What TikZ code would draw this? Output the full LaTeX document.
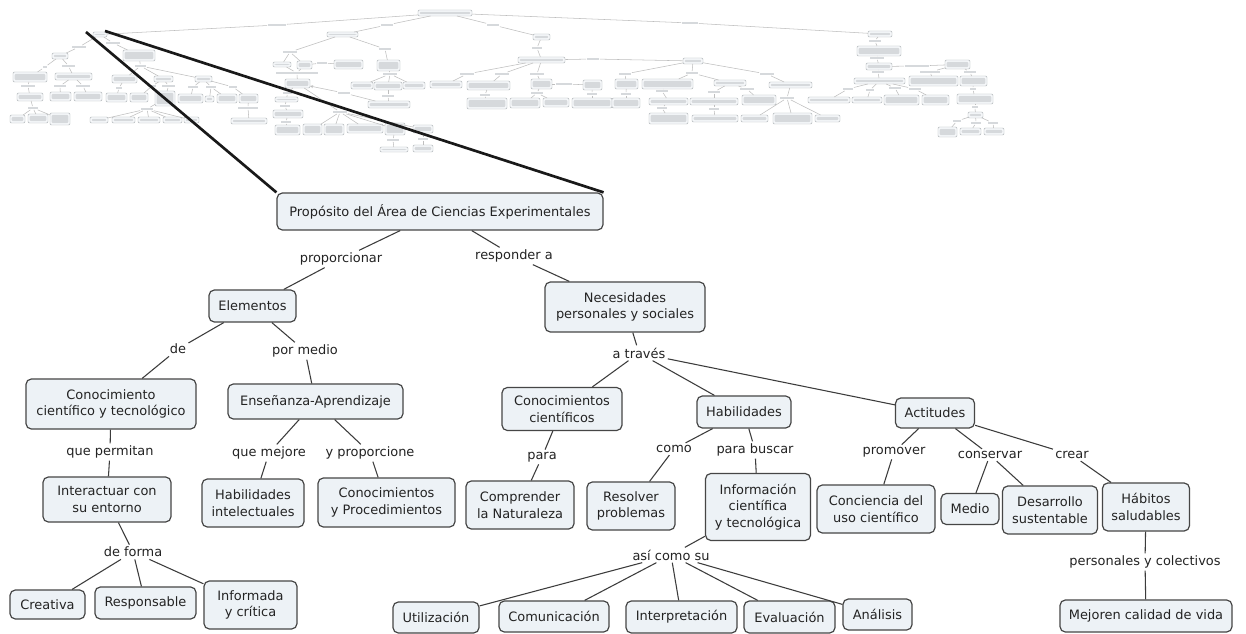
\documentclass[tikz,border=0pt]{standalone}
\usepackage{fontspec}
\setmainfont{DejaVu Sans}
\usetikzlibrary{fit,calc,arrows.meta}

\definecolor{mfill}{RGB}{237,242,246}
\definecolor{mborder}{RGB}{70,70,70}
\definecolor{mline}{RGB}{60,60,60}
\definecolor{mtext}{RGB}{35,35,35}
\definecolor{tfill}{RGB}{246,248,250}
\definecolor{tborder}{RGB}{172,176,180}
\definecolor{tline}{RGB}{190,190,190}
\definecolor{ttext}{RGB}{214,217,220}

\newcommand\mapfont{\fontsize{9.7}{12.3}\selectfont}

% main concept: name, cx, cy, width, height, text (all in px)
\newcommand\mnode[6]{\node[mbox, minimum width=#4*0.75pt, minimum height=#5*0.75pt] (#1) at (#2,#3) {#6};}
% linking phrase
\newcommand\lnode[4]{\node[mlabel] (#1) at (#2,#3) {#4};}
% concept -- phrase -- list of concepts
\newcommand\mlink[3]{\draw[mconn] (#1) -- (#2);\foreach \tgt in {#3}{\draw[mconn] (#2) -- (\tgt);}}
% overview map: box, phrase and link
\newcommand\tbx[5]{\node[tbox, fit={(#2,#3) (#4,#5)}] (#1) {};}
\newcommand\tlab[5]{\node[tphrase, fit={(#2,#3) (#4,#5)}] (#1) {};}
\newcommand\tlink[3]{\draw[tconn] (#1) -- (#2);\foreach \tgt in {#3}{\draw[tconn] (#2) -- (\tgt);}}

\begin{document}
\begin{tikzpicture}[x=0.75pt,y=-0.75pt,
  mbox/.style={draw=mborder, fill=mfill, rounded corners=4pt, line width=0.9pt,
    align=center, inner sep=0pt, text=mtext, font=\mapfont},
  mlabel/.style={inner sep=1.6pt, text=mtext, font=\mapfont},
  mconn/.style={draw=mline, line width=0.8pt},
  tbox/.style={draw=tborder, fill=tfill, rounded corners=0.9pt, line width=0.35pt,
    inner sep=0pt, outer sep=0pt,
    path picture={\fill[ttext] ([xshift=1.3pt,yshift=1.35pt]path picture bounding box.south west)
      rectangle ([xshift=-1.3pt,yshift=-1.35pt]path picture bounding box.north east);}},
  tphrase/.style={fill=ttext, inner sep=0pt, outer sep=0.7pt},
  tconn/.style={draw=tline, line width=0.4pt},
  zoomline/.style={draw=black!90, line width=2pt}]

\fill[white] (0,0) rectangle (1246,634);
\path[use as bounding box] (0,0) rectangle (1246,634);

% ---------- overview of the whole map ----------
\tbx{tR}{418}{10}{472}{16}
\tlab{ta1}{268}{24}{286}{26}
\tlab{ta2}{381}{24}{393}{26}
\tlab{ta3}{487}{24}{499}{26}
\tlab{ta4}{682}{22}{698}{24}
\tbx{tP}{93}{32}{107}{37}
\tbx{tB}{327}{32}{358}{37}
\tbx{tD}{533}{34}{550}{40}
\tbx{tG}{868}{31}{892}{37}

% purpose branch
\tlab{tlp1}{72}{46}{86}{48}
\tlab{tlp2}{106}{42}{120}{44}
\tbx{tElem}{52}{53}{68}{59}
\tbx{tNec}{123}{50}{155}{61}
\tlab{tlde}{43}{66}{47}{68}
\tlab{tlpm}{62}{65}{75}{67}
\tlab{tlat}{135}{65}{146}{67}
\tbx{tCCT}{13}{72}{47}{82}
\tbx{tENS}{55}{73}{92}{80}
\tbx{tCC}{112}{75}{137}{83}
\tbx{tHAB}{154}{76}{173}{82}
\tbx{tACT}{195}{76}{212}{82}
\tlab{tlqp}{21}{85}{35}{87}
\tlab{tlqm}{54}{85}{66}{87}
\tlab{tlyp}{76}{85}{90}{87}
\tlab{tlpara}{116}{87}{122}{89}
\tlab{tlcomo}{148}{85}{156}{87}
\tlab{tlpb}{162}{85}{175}{87}
\tlab{tlprom}{188}{86}{198}{88}
\tlab{tlcons}{206}{86}{216}{88}
\tlab{tlcrear}{229}{86}{237}{88}
\tbx{tINT}{17}{93}{43}{101}
\tbx{tHI}{50}{92}{71}{101}
\tbx{tCYP}{74}{92}{102}{101}
\tbx{tCOMP}{106}{93}{127}{102}
\tbx{tRES}{130}{93}{148}{102}
\tbx{tINFO}{155}{91}{175}{106}
\tbx{tCONC}{178}{94}{203}{103}
\tbx{tMED}{205}{96}{214}{102}
\tbx{tDES}{217}{94}{237}{103}
\tbx{tHS}{239}{94}{258}{103}
\tlab{tldf}{28}{107}{38}{109}
\tlab{tlacs}{141}{108}{153}{110}
\tlab{tlpyc}{238}{107}{258}{109}
\tbx{tCRE}{10}{115}{25}{123}
\tbx{tRSP}{28}{114}{48}{123}
\tbx{tINF}{50}{113}{70}{125}
\tbx{tUTI}{90}{117}{108}{123}
\tbx{tCOM}{112}{117}{135}{123}
\tbx{tITP}{138}{117}{160}{123}
\tbx{tEVA}{163}{117}{182}{123}
\tbx{tANA}{184}{117}{199}{123}
\tbx{tMEJ}{231}{118}{267}{124}

% second branch
\tlab{tlb1}{283}{51}{297}{53}
\tlab{tlb2}{379}{48}{391}{50}
\tbx{tb1}{273}{62}{291}{67}
\tbx{tb2}{297}{61}{312}{69}
\tbx{tb3}{377}{60}{400}{71}
\tlab{tlb3}{317}{62}{327}{64}
\tbx{tb4}{334}{60}{363}{69}
\tlab{tlb4}{276}{72}{318}{74}
\tbx{tb5}{285}{79}{310}{88}
\tlab{tlb5}{383}{73}{397}{75}
\tbx{tb6}{351}{82}{373}{89}
\tbx{tb7}{374}{82}{402}{90}
\tbx{tb8}{403}{82}{425}{89}
\tlab{tlb6}{382}{95}{394}{97}
\tbx{tb9}{368}{101}{410}{108}
\tlab{tlb7}{338}{92}{350}{94}
\tlab{tlb9}{283}{92}{292}{94}
\tbx{tb10}{275}{97}{298}{102}
\tlab{tlb10}{280}{105}{290}{107}
\tbx{tb11}{273}{110}{303}{118}
\tlab{tlb11}{281}{121}{291}{123}
\tbx{tb12}{275}{125}{300}{135}
\tlab{tlb12}{333}{111}{347}{113}
\tbx{tb13}{303}{124}{322}{135}
\tbx{tb14}{324}{124}{344}{135}
\tbx{tb15}{347}{124}{383}{133}
\tbx{tb16}{385}{123}{405}{135}
\tbx{tb18}{413}{125}{433}{133}
\tlab{tlb13}{387}{139}{399}{141}
\tbx{tb17}{380}{147}{408}{152}
\tlab{tlb14}{418}{138}{428}{140}
\tbx{tb19}{413}{145}{433}{152}

% third branch
\tlab{tld1}{532}{47}{542}{49}
\tbx{tE}{518}{57}{565}{63}
\tlab{tld2}{587}{58}{599}{60}
\tbx{tF}{683}{58}{703}{64}
\tlab{tld3}{460}{73}{474}{75}
\tlab{tld4}{495}{73}{509}{75}
\tlab{tld5}{530}{73}{544}{75}
\tbx{te1}{430}{81}{462}{88}
\tbx{te2}{467}{81}{510}{90}
\tbx{te3}{531}{79}{552}{89}
\tlab{tld6}{556}{83}{572}{85}
\tbx{te4}{583}{80}{602}{90}
\tlab{tld7}{531}{92}{543}{94}
\tlab{tld8}{480}{94}{490}{96}
\tlab{tld9}{587}{93}{597}{95}
\tbx{te5}{467}{98}{507}{109}
\tbx{te6}{510}{98}{540}{108}
\tbx{te7}{543}{98}{569}{107}
\tbx{te8}{572}{98}{612}{108}
\tlab{tlf1}{619}{73}{631}{75}
\tlab{tlf2}{686}{72}{698}{74}
\tlab{tlf3}{760}{73}{774}{75}
\tbx{tf1}{615}{79}{638}{89}
\tbx{tf2}{642}{79}{693}{89}
\tbx{tf3}{714}{80}{746}{86}
\tbx{tf4}{769}{82}{812}{88}
\tlab{tlf4}{621}{93}{631}{95}
\tlab{tlf5}{656}{90}{668}{92}
\tlab{tlf6}{708}{91}{720}{93}
\tlab{tlf7}{740}{88}{754}{90}
\tbx{tf5}{612}{98}{640}{108}
\tbx{tf6}{649}{98}{688}{105}
\tbx{tf7}{690}{98}{738}{105}
\tbx{tf8}{742}{95}{776}{105}
\tlab{tlf8}{657}{107}{667}{109}
\tlab{tlf9}{709}{108}{719}{110}
\tlab{tlf10}{780}{97}{794}{99}
\tbx{tf9}{649}{113}{688}{124}
\tbx{tf10}{692}{115}{738}{122}
\tbx{tf11}{741}{115}{768}{122}
\tbx{tf12}{773}{113}{812}{124}
\tbx{tf13}{815}{115}{840}{122}

% fourth branch
\tlab{tlg1}{869}{40}{881}{42}
\tbx{tH}{857}{46}{901}{56}
\tlab{tlg2}{870}{57}{884}{59}
\tbx{tI}{866}{63}{892}{70}
\tlab{tlg3}{905}{65}{929}{67}
\tbx{tJ}{945}{60}{970}{69}
\tlab{tlg4}{872}{71}{884}{73}
\tbx{tK}{854}{78}{905}{84}
\tlab{tlg5}{920}{71}{940}{73}
\tlab{tlg6}{964}{71}{976}{73}
\tbx{tL}{909}{76}{958}{86}
\tbx{tM}{960}{76}{987}{86}
\tlab{tlg7}{970}{88}{976}{90}
\tbx{tN}{957}{94}{993}{104}
\tlab{tlg8}{972}{106}{978}{108}
\tbx{tO}{968}{112}{983}{118}
\tlab{tlg9}{953}{120}{961}{122}
\tlab{tlg10}{971}{122}{981}{124}
\tlab{tlg11}{988}{122}{998}{124}
\tbx{to1}{938}{127}{957}{137}
\tbx{to2}{960}{128}{981}{135}
\tbx{to3}{984}{128}{1004}{135}
\tlab{tlk1}{843}{88}{853}{90}
\tlab{tlk2}{866}{89}{874}{91}
\tlab{tlk3}{889}{87}{901}{89}
\tlab{tlk4}{909}{88}{921}{90}
\tbx{tf14}{808}{97}{850}{103}
\tbx{tk2}{852}{97}{882}{103}
\tbx{tk3}{884}{95}{919}{105}
\tbx{tk4}{922}{95}{949}{105}

% overview links
\tlink{tR}{ta1}{tP}
\tlink{tR}{ta2}{tB}
\tlink{tR}{ta3}{tD}
\tlink{tR}{ta4}{tG}
\tlink{tP}{tlp1}{tElem}
\tlink{tP}{tlp2}{tNec}
\tlink{tElem}{tlde}{tCCT}
\tlink{tElem}{tlpm}{tENS}
\tlink{tNec}{tlat}{tCC,tHAB,tACT}
\tlink{tCCT}{tlqp}{tINT}
\tlink{tENS}{tlqm}{tHI}
\tlink{tENS}{tlyp}{tCYP}
\tlink{tCC}{tlpara}{tCOMP}
\tlink{tHAB}{tlcomo}{tRES}
\tlink{tHAB}{tlpb}{tINFO}
\tlink{tACT}{tlprom}{tCONC}
\tlink{tACT}{tlcons}{tMED,tDES}
\tlink{tACT}{tlcrear}{tHS}
\tlink{tINT}{tldf}{tCRE,tRSP,tINF}
\tlink{tINFO}{tlacs}{tUTI,tCOM,tITP,tEVA,tANA}
\tlink{tHS}{tlpyc}{tMEJ}
\tlink{tB}{tlb1}{tb1,tb2}
\tlink{tB}{tlb2}{tb3}
\tlink{tb2}{tlb3}{tb4}
\tlink{tb1}{tlb4}{tb5}
\draw[tconn] (tb2) -- (tlb4);
\tlink{tb3}{tlb5}{tb6,tb7,tb8}
\tlink{tb7}{tlb6}{tb9}
\draw[tconn] (tb9) -- (tlb7);
\draw[tconn, -{Stealth[length=2.4pt,width=2.2pt]}] (tlb7) -- (tb5);
\tlink{tb5}{tlb9}{tb10}
\tlink{tb10}{tlb10}{tb11}
\tlink{tb11}{tlb11}{tb12}
\tlink{tb5}{tlb12}{tb13,tb14,tb15,tb16,tb18}
\tlink{tb16}{tlb13}{tb17}
\tlink{tb18}{tlb14}{tb19}
\tlink{tD}{tld1}{tE}
\tlink{tE}{tld2}{tF}
\tlink{tE}{tld3}{te1}
\tlink{tE}{tld4}{te2}
\tlink{tE}{tld5}{te3}
\tlink{te3}{tld6}{te4}
\tlink{te3}{tld7}{te6,te7}
\tlink{te2}{tld8}{te5}
\tlink{te4}{tld9}{te8}
\tlink{tF}{tlf1}{tf1}
\tlink{tF}{tlf2}{tf2,tf3}
\tlink{tF}{tlf3}{tf4}
\tlink{tf1}{tlf4}{tf5}
\tlink{tf2}{tlf5}{tf6}
\tlink{tf3}{tlf6}{tf7}
\tlink{tf3}{tlf7}{tf8}
\tlink{tf6}{tlf8}{tf9}
\tlink{tf7}{tlf9}{tf10}
\tlink{tf4}{tlf10}{tf11,tf12,tf13}
\tlink{tG}{tlg1}{tH}
\tlink{tH}{tlg2}{tI}
\tlink{tI}{tlg3}{tJ}
\tlink{tI}{tlg4}{tK}
\tlink{tJ}{tlg5}{tL}
\tlink{tJ}{tlg6}{tM}
\tlink{tM}{tlg7}{tN}
\tlink{tN}{tlg8}{tO}
\tlink{tO}{tlg9}{to1}
\tlink{tO}{tlg10}{to2}
\tlink{tO}{tlg11}{to3}
\tlink{tK}{tlk1}{tf14}
\tlink{tK}{tlk2}{tk2}
\tlink{tK}{tlk3}{tk3}
\tlink{tK}{tlk4}{tk4}

% ---------- enlarged branch: concepts ----------
\mnode{prop}{440}{211.5}{326}{37}{Propósito del Área de Ciencias Experimentales}
\mnode{elem}{252.5}{306}{87}{32}{Elementos}
\mnode{nec}{625}{307}{160}{50}{Necesidades\\personales y sociales}
\mnode{cct}{111}{404}{170}{50}{Conocimiento\\científico y tecnológico}
\mnode{ens}{315.5}{401.5}{175}{35}{Enseñanza-Aprendizaje}
\mnode{ccient}{562}{409}{120}{43}{Conocimientos\\científicos}
\mnode{hab}{744}{412}{94}{32}{Habilidades}
\mnode{act}{935}{413}{79}{30}{Actitudes}
\mnode{inter}{107}{499.5}{128}{45}{Interactuar con\\su entorno}
\mnode{habint}{253}{503}{102}{48}{Habilidades\\intelectuales}
\mnode{cyp}{386.5}{502.5}{137}{49}{Conocimientos\\y Procedimientos}
\mnode{comp}{520}{505}{108}{48}{Comprender\\la Naturaleza}
\mnode{resol}{631}{506}{88}{48}{Resolver\\problemas}
\mnode{info}{758}{507}{105}{67}{Información\\científica\\y tecnológica}
\mnode{conc}{876}{509}{118}{48}{Conciencia del\\uso científico}
\mnode{medio}{970}{509}{58}{31}{Medio}
\mnode{desa}{1050}{510}{95}{48}{Desarrollo\\sustentable}
\mnode{habsal}{1146}{507}{87}{48}{Hábitos\\saludables}
\mnode{crea}{47.5}{604.5}{75}{29}{Creativa}
\mnode{resp}{145.5}{603}{101}{32}{Responsable}
\mnode{infcr}{250.5}{605}{93}{48}{Informada\\y crítica}
\mnode{util}{436}{617.5}{86}{31}{Utilización}
\mnode{comu}{554}{616.5}{110}{31}{Comunicación}
\mnode{interp}{681.5}{617}{111}{32}{Interpretación}
\mnode{eval}{789.5}{617}{91}{32}{Evaluación}
\mnode{anal}{877.5}{614.5}{69}{31}{Análisis}
\mnode{mej}{1146}{616}{172}{32}{Mejoren calidad de vida}

% ---------- enlarged branch: linking phrases ----------
\lnode{l_prop}{341}{259}{proporcionar}
\lnode{l_resp}{514}{256}{responder a}
\lnode{l_de}{178}{349}{de}
\lnode{l_pm}{305}{351}{por medio}
\lnode{l_at}{639}{353}{a través}
\lnode{l_qp}{110}{452}{que permitan}
\lnode{l_qm}{269}{453}{que mejore}
\lnode{l_yp}{370}{453}{y proporcione}
\lnode{l_para}{542}{457}{para}
\lnode{l_como}{674}{449}{como}
\lnode{l_pb}{755}{450}{para buscar}
\lnode{l_prom}{894}{452}{promover}
\lnode{l_cons}{990}{455}{conservar}
\lnode{l_crear}{1072}{455}{crear}
\lnode{l_df}{133}{552}{de forma}
\lnode{l_acs}{671}{555}{así como su}
\lnode{l_pyc}{1145}{562}{personales y colectivos}

% ---------- enlarged branch: links ----------
\mlink{prop}{l_prop}{elem}
\mlink{prop}{l_resp}{nec}
\mlink{elem}{l_de}{cct}
\mlink{elem}{l_pm}{ens}
\mlink{nec}{l_at}{ccient,hab,act}
\mlink{cct}{l_qp}{inter}
\mlink{ens}{l_qm}{habint}
\mlink{ens}{l_yp}{cyp}
\mlink{ccient}{l_para}{comp}
\mlink{hab}{l_como}{resol}
\mlink{hab}{l_pb}{info}
\mlink{act}{l_prom}{conc}
\mlink{act}{l_cons}{medio,desa}
\mlink{act}{l_crear}{habsal}
\mlink{inter}{l_df}{crea,resp,infcr}
\mlink{info}{l_acs}{util,comu,interp,eval,anal}
\mlink{habsal}{l_pyc}{mej}

% ---------- magnifier lines ----------
\coordinate (zl) at (86,32);
\coordinate (zr) at (105,31);
\draw[zoomline] (zl) -- (prop.north west);
\draw[zoomline] (zr) -- (prop.north east);
\end{tikzpicture}
\end{document}
